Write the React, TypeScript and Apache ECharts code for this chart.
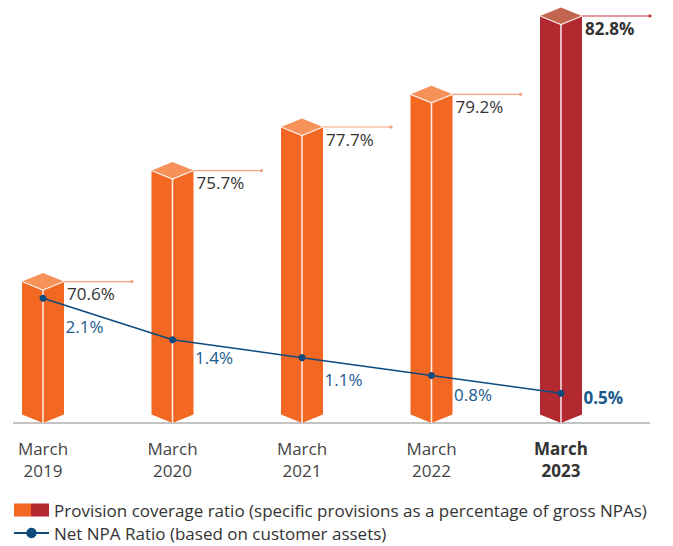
import React, { useEffect, useRef } from "react";
import * as echarts from "echarts";

const categories = ["March\n2019", "March\n2020", "March\n2021", "March\n2022", "March\n2023"];
const provisionCoverage = [70.6, 75.7, 77.7, 79.2, 82.8];
const netNpa = [2.1, 1.4, 1.1, 0.8, 0.5];
const pcrName = "Provision coverage ratio (specific provisions as a percentage of gross NPAs)";
const npaName = "Net NPA Ratio (based on customer assets)";

const npaLabelDy = [28, 18, 22, 19, 4];

const ORANGE = "#F26722";
const ORANGE_TOP = "#F7915A";
const ORANGE_LINE = "#F5A17C";
const RED = "#B22A30";
const RED_TOP = "#C4654F";
const RED_LINE = "#C0393F";
const BLUE = "#0D4A7E";
const FONT = "'Open Sans', 'Noto Sans', sans-serif";
const PCR_MIN = 64.1;

export default function App() {
  const ref = useRef<HTMLDivElement>(null);
  useEffect(() => {
    if (!ref.current) return;
    const chart = echarts.init(ref.current, undefined, { renderer: "svg" });
    const last = categories.length - 1;
    const npaLabel = (i: number) => ({
      show: true,
      position: "right",
      distance: 19,
      fontSize: 17,
      fontFamily: FONT,
      color: "#1B5A8E",
      offset: [0, npaLabelDy[i]],
      fontWeight: i === last ? "bold" : "normal",
    });
    const option = {
      animation: false,
      backgroundColor: "#ffffff",
      textStyle: { fontFamily: FONT },
      grid: { left: 43, right: 112, top: 16, bottom: 123 },
      xAxis: {
        type: "category",
        data: categories,
        boundaryGap: false,
        axisLine: { show: false },
        axisTick: { show: false },
        axisLabel: {
          margin: 14,
          interval: 0,
          formatter: (v: string, i: number) => {
            const parts = v.split("\n");
            const k = i === last ? "b" : "n";
            return parts.map((p) => `{${k}|${p}}`).join("\n");
          },
          rich: {
            n: { fontSize: 17, color: "#444444", lineHeight: 22, fontFamily: FONT },
            b: { fontSize: 17, color: "#333333", fontWeight: "bold", lineHeight: 22, fontFamily: FONT },
          },
        },
      },
      yAxis: [
        { type: "value", min: PCR_MIN, max: 82.8, show: false, splitLine: { show: false } },
        { type: "value", min: 0, max: 6.85, show: false, splitLine: { show: false } },
      ],
      legend: {
        orient: "vertical",
        left: 13,
        top: 501,
        padding: 0,
        itemWidth: 35,
        itemHeight: 13,
        itemGap: 5,
        textStyle: { fontSize: 17, lineHeight: 18, color: "#333333", fontFamily: FONT },
        data: [
          {
            name: pcrName,
            icon: "rect",
            itemStyle: {
              color: {
                type: "linear",
                x: 0, y: 0, x2: 1, y2: 0,
                colorStops: [
                  { offset: 0, color: ORANGE },
                  { offset: 0.5, color: ORANGE },
                  { offset: 0.5, color: RED },
                  { offset: 1, color: RED },
                ],
              },
            },
          },
          { name: npaName },
        ],
      },
      graphic: [
        {
          type: "line",
          shape: { x1: 13, y1: 423, x2: 650, y2: 423 },
          style: { stroke: "#AFAFAF", lineWidth: 1.5 },
          z: 1,
        },
      ],
      series: [
        {
          name: pcrName,
          type: "custom",
          yAxisIndex: 0,
          z: 2,
          data: provisionCoverage.map((v, i) => [i, v]),
          renderItem: (params: any, api: any) => {
            const i = api.value(0);
            const v = api.value(1);
            const top = api.coord([i, v]);
            const base = api.coord([i, PCR_MIN]);
            const hw = 21;
            const d = 8.5;
            const x = top[0];
            const yt = top[1];
            const yb = base[1];
            const isLast = i === last;
            const face = isLast ? RED : ORANGE;
            const topC = isLast ? RED_TOP : ORANGE_TOP;
            const lineC = isLast ? RED_LINE : ORANGE_LINE;
            return {
              type: "group",
              children: [
                {
                  type: "polygon",
                  shape: { points: [[x - hw, yt], [x, yt + d], [x, yb], [x - hw, yb - d]] },
                  style: { fill: face },
                },
                {
                  type: "polygon",
                  shape: { points: [[x, yt + d], [x + hw, yt], [x + hw, yb - d], [x, yb]] },
                  style: { fill: face },
                },
                {
                  type: "polygon",
                  shape: { points: [[x - hw, yt], [x, yt - d], [x + hw, yt], [x, yt + d]] },
                  style: { fill: topC },
                },
                {
                  type: "polyline",
                  shape: { points: [[x - hw, yt], [x, yt + d], [x + hw, yt]] },
                  style: { stroke: "rgba(255,255,255,0.85)", lineWidth: 1.2, fill: "none" },
                },
                {
                  type: "line",
                  shape: { x1: x, y1: yt + d, x2: x, y2: yb },
                  style: { stroke: "rgba(255,255,255,0.85)", lineWidth: 1.6 },
                },
                {
                  type: "line",
                  shape: { x1: x + hw, y1: yt, x2: x + hw + 68, y2: yt },
                  style: { stroke: lineC, lineWidth: 1.2 },
                },
                {
                  type: "circle",
                  shape: { cx: x + hw + 68, cy: yt, r: 1.6 },
                  style: { fill: lineC },
                },
                {
                  type: "text",
                  x: x + hw + 3,
                  y: yt + 12,
                  style: {
                    text: v.toFixed(1) + "%",
                    fontSize: 17,
                    fontFamily: FONT,
                    fontWeight: isLast ? "bold" : "normal",
                    fill: "#333333",
                    verticalAlign: "middle",
                    align: "left",
                  },
                },
              ],
            };
          },
        },
        {
          name: npaName,
          type: "line",
          yAxisIndex: 1,
          z: 5,
          data: netNpa.map((v, i) => ({ value: v, label: npaLabel(i) })),
          symbol: "circle",
          symbolSize: 7,
          lineStyle: { color: BLUE, width: 1.5 },
          itemStyle: { color: BLUE },
          label: {
            show: true,
            position: "right",
            distance: 19,
            fontSize: 17,
            fontFamily: FONT,
            color: "#1B5A8E",
            formatter: (p: any) => p.value.toFixed(1) + "%",
          },
        },
      ],
    };
    chart.setOption(option as any);
    return () => chart.dispose();
  }, []);
  return (
    <div
      ref={ref}
      style={{ position: "fixed", left: 0, top: 0, width: 673, height: 546, background: "#fff" }}
    />
  );
}
